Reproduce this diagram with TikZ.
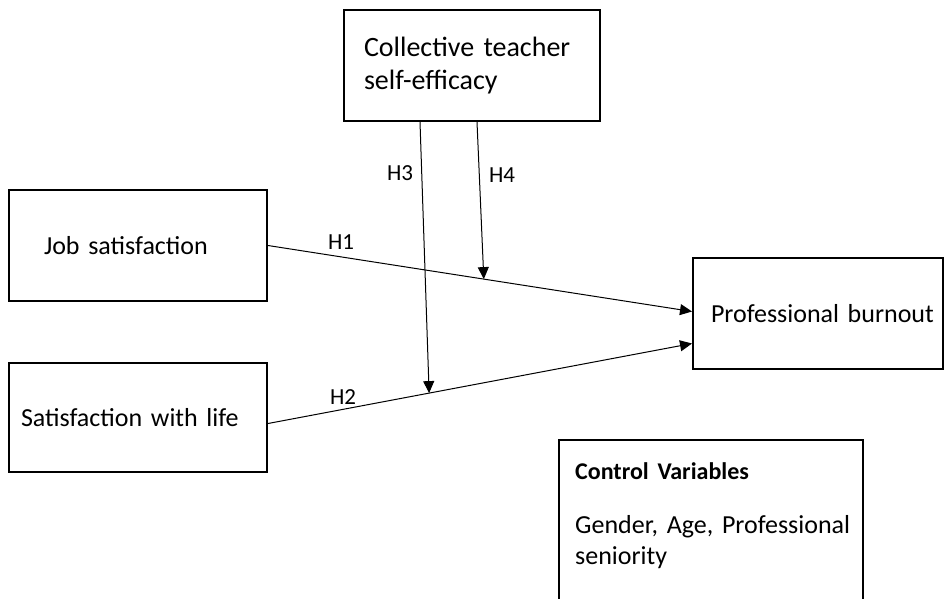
\documentclass[tikz,border=0pt]{standalone}
\usepackage{fontspec}
\setmainfont{Carlito}
\usetikzlibrary{positioning,arrows.meta}
\newcommand{\boxfont}{\fontsize{26}{31}\selectfont}
\newcommand{\titlefont}{\fontsize{28}{33}\selectfont}

\tikzset{
  varbox/.style={draw, line width=2pt, align=left, inner ysep=0pt, anchor=north west, minimum height=111pt, font=\boxfont},
  hyparrow/.style={-{Triangle[length=12pt,width=11pt]}, line width=1pt},
  hlabel/.style={font=\fontsize{23}{27}\selectfont}
}

\begin{document}
\begin{tikzpicture}[x=1pt,y=-1pt]
  \clip (0,0) rectangle (944,598);

  % variables
  \node[varbox, text width=216pt, inner xsep=20pt, font=\titlefont] (ctse) at (343,9) {\mbox{Collective teacher}\\self-efficacy};
  \node[varbox, text width=188pt, inner xsep=35pt] (job) at (8,189) {\mbox{Job satisfaction}};
  \node[varbox, text width=234pt, inner xsep=12pt, minimum height=109pt] (life) at (8,362) {\mbox{Satisfaction with life}};
  \node[varbox, text width=214pt, inner xsep=18pt] (burnout) at (692,257) {\mbox{Professional burnout}};

  % control variables (box runs off the bottom)
  \node[anchor=north west, align=left, text width=272pt, inner xsep=16pt, inner ysep=22pt, font=\boxfont] (control) at (559,440)
    {{\fontsize{24}{29}\selectfont\bfseries Control Variables}\\[23pt]\mbox{Gender, Age, Professional}\\seniority};
  \draw[line width=2pt] (control.north west) rectangle ([yshift=-60pt]control.south east);

  % direct paths
  \draw[hyparrow] (job.east) -- coordinate[pos=0.509] (m1) ([yshift=2pt]burnout.west);
  \draw[hyparrow] ([yshift=-6pt]life.east) -- coordinate[pos=0.380] (m2) ([yshift=-30pt]burnout.west);

  % moderation paths
  \draw[hyparrow] ([xshift=-52pt]ctse.south) -- (m2);
  \draw[hyparrow] ([xshift=5pt]ctse.south) -- (m1);

  \node[hlabel] (h1) at (341,242) {H1};
  \node[hlabel] (h2) at (343,397) {H2};
  \node[hlabel] (h3) at (400,173) {H3};
  \node[hlabel] (h4) at (502,175) {H4};
\end{tikzpicture}
\end{document}
